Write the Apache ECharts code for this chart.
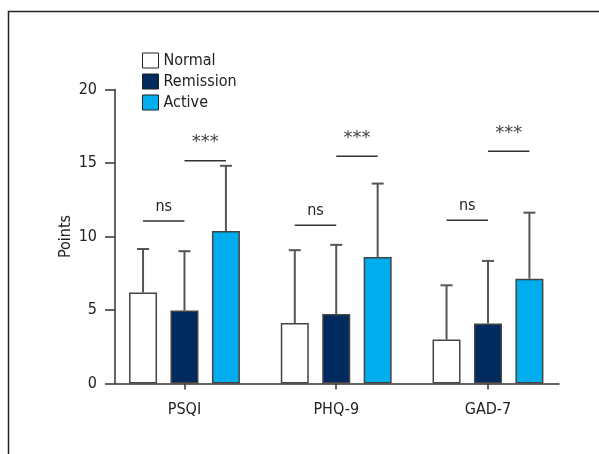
<!DOCTYPE html>
<html>
<head>
<meta charset="utf-8">
<script src="https://cdn.jsdelivr.net/npm/echarts@6/dist/echarts.min.js"></script>
<style>html,body{margin:0;padding:0;background:#fff;}#c{width:599px;height:454px;}</style>
</head>
<body>
<div id="c"></div>
<script>
const categories = ['PSQI', 'PHQ-9', 'GAD-7'];
const groups = ['Normal', 'Remission', 'Active'];
const normalMean = [6.19, 4.11, 2.99];
const normalUpper = [9.15, 9.07, 6.68];
const remissionMean = [4.96, 4.72, 4.08];
const remissionUpper = [9.0, 9.43, 8.34];
const activeMean = [10.37, 8.61, 7.13];
const activeUpper = [14.81, 13.6, 11.62];
const nsLevel = [11.06, 10.77, 11.1];
const nsLabel = 'ns';
const starLevel = [15.15, 15.46, 15.8];
const starLabel = '***';
const yMin = 0, yMax = 20, yStep = 5;
const yName = 'Points';

const FONT = "'DejaVu Sans Condensed', 'Liberation Sans Narrow', 'Liberation Sans', sans-serif";
const FS = 16;
const colors = ['#ffffff', '#012a5e', '#00adee'];
const BAR_W = 28, GAP_RATIO = 0.48;
const STEP = BAR_W * (1 + GAP_RATIO);
const means = [normalMean, remissionMean, activeMean];
const uppers = [normalUpper, remissionUpper, activeUpper];

const chart = echarts.init(document.getElementById('c'));

const barSeries = groups.map((g, s) => ({
  name: g, type: 'bar', xAxisIndex: 0, yAxisIndex: 0,
  barWidth: BAR_W, barGap: (GAP_RATIO * 100) + '%',
  data: means[s],
  itemStyle: { color: colors[s], borderColor: '#444', borderWidth: 1.5 },
  z: 3, silent: true
}));

const errSeries = groups.map((g, s) => ({
  name: g + ' SD', type: 'custom', xAxisIndex: 0, yAxisIndex: 0, z: 2, silent: true,
  data: categories.map((c, i) => [i, means[s][i], uppers[s][i]]),
  renderItem: function (params, api) {
    const i = api.value(0);
    const base = api.coord([i, api.value(1)]);
    const top = api.coord([i, api.value(2)]);
    const x = base[0] + (s - 1) * STEP;
    const st = { stroke: '#555', lineWidth: 2 };
    return { type: 'group', children: [
      { type: 'line', shape: { x1: x, y1: base[1], x2: x, y2: top[1] }, style: st },
      { type: 'line', shape: { x1: x - 6, y1: top[1], x2: x + 6, y2: top[1] }, style: st }
    ]};
  }
}));

function sigSeries(name, levels, label, fromIdx, font, size, dy, color) {
  return {
    name: name, type: 'custom', xAxisIndex: 0, yAxisIndex: 0, z: 4, silent: true,
    data: categories.map((c, i) => [i, levels[i]]),
    renderItem: function (params, api) {
      const p = api.coord([api.value(0), api.value(1)]);
      const x1 = p[0] + (fromIdx - 1) * STEP;
      const x2 = p[0] + fromIdx * STEP;
      return { type: 'group', children: [
        { type: 'line', shape: { x1: x1, y1: p[1], x2: x2, y2: p[1] }, style: { stroke: '#333', lineWidth: 1.5 } },
        { type: 'text', style: { text: label, x: (x1 + x2) / 2, y: p[1] + dy, align: 'center', verticalAlign: 'middle',
          fill: color, font: size + 'px ' + font } }
      ]};
    }
  };
}

chart.setOption({
  animation: false,
  backgroundColor: '#fff',
  textStyle: { fontFamily: FONT },
  graphic: [{ type: 'polyline', shape: { points: [[8.5, 454], [8.5, 11.5], [599, 11.5]] },
    style: { stroke: '#222', lineWidth: 1.5, fill: null } }],
  legend: {
    data: groups, orient: 'vertical', left: 137, top: 47.5,
    itemWidth: 16, itemHeight: 15, itemGap: 5, icon: 'rect',
    textStyle: { fontSize: FS, color: '#222', fontFamily: FONT },
    itemStyle: { borderColor: '#222', borderWidth: 1 }
  },
  grid: [
    { left: 108.6, right: 35.15, top: 89.5, bottom: 70.5 },
    { left: 115, right: 40, top: 89.5, bottom: 70.5 }
  ],
  xAxis: [
    { type: 'category', gridIndex: 0, data: categories,
      axisLine: { show: false },
      axisTick: { show: true, alignWithLabel: true, length: 6, lineStyle: { color: '#333', width: 1.5 } },
      axisLabel: { fontSize: FS, color: '#222', margin: 18, fontFamily: FONT },
      splitLine: { show: false } },
    { type: 'value', gridIndex: 1, min: 0, max: 1,
      axisLine: { show: true, lineStyle: { color: '#333', width: 1.5 } },
      axisTick: { show: false }, axisLabel: { show: false }, splitLine: { show: false } }
  ],
  yAxis: [
    { type: 'value', gridIndex: 0, min: yMin, max: yMax, interval: yStep, show: false },
    { type: 'value', gridIndex: 1, min: yMin, max: yMax, interval: yStep,
      name: yName, nameLocation: 'middle', nameGap: 41, nameRotate: 90, nameMoveOverlap: false,
      nameTextStyle: { fontSize: FS, color: '#222', fontFamily: FONT },
      axisLine: { show: true, lineStyle: { color: '#333', width: 1.5 } },
      axisTick: { show: true, length: 10, lineStyle: { color: '#333', width: 1.5 } },
      axisLabel: { fontSize: FS, color: '#222', margin: 18, fontFamily: FONT },
      splitLine: { show: false } }
  ],
  series: barSeries.concat(errSeries).concat([
    sigSeries('ns marks', nsLevel, nsLabel, 0, FONT, FS, -14, '#222'),
    sigSeries('star marks', starLevel, starLabel, 1, "'DejaVu Sans'", 18, -18, '#444')
  ])
});
</script>
</body>
</html>
